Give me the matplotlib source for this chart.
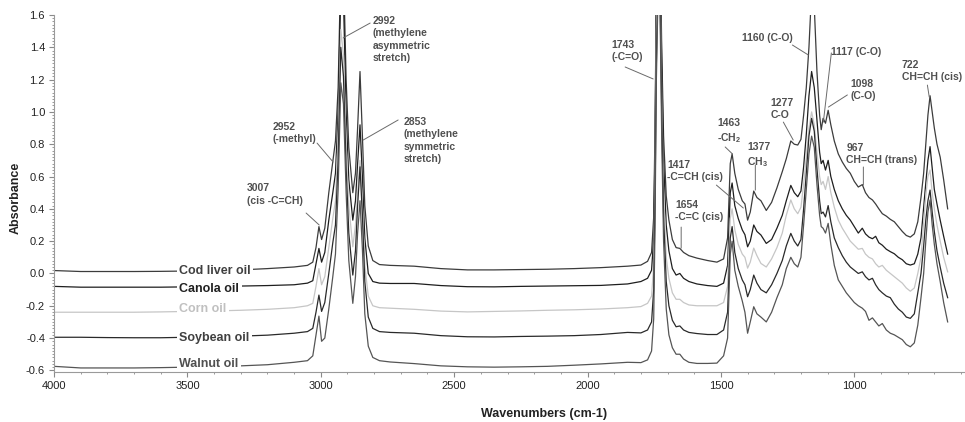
import matplotlib
matplotlib.use("Agg")
import matplotlib.pyplot as plt
from matplotlib.ticker import MultipleLocator, FormatStrFormatter

plt.rcParams['font.family'] = ['Liberation Sans', 'DejaVu Sans']
plt.rcParams['axes.unicode_minus'] = False
plt.rcParams['mathtext.fontset'] = 'custom'
plt.rcParams['mathtext.rm'] = 'Liberation Sans:bold'
plt.rcParams['mathtext.default'] = 'rm'

# ---------------- data ----------------
wavenumbers = [
    4000, 3900, 3800, 3700, 3600, 3500, 3400, 3300, 3200, 3100,
    3050, 3030, 3018, 3007, 2997, 2985, 2970, 2955, 2945, 2935,
    2925, 2915, 2905, 2895, 2880, 2870, 2862, 2853, 2844, 2835,
    2822, 2805, 2780, 2740, 2650, 2550, 2450, 2350, 2250, 2150,
    2050, 1950, 1850, 1800, 1775, 1760, 1752, 1747, 1742, 1735,
    1728, 1722, 1715, 1705, 1695, 1682, 1668, 1654, 1640, 1620,
    1590, 1550, 1515, 1490, 1475, 1465, 1458, 1448, 1435, 1420,
    1410, 1400, 1390, 1377, 1365, 1350, 1330, 1310, 1290, 1270,
    1255, 1238, 1225, 1212, 1200, 1190, 1180, 1170, 1160, 1150,
    1140, 1130, 1124, 1117, 1108, 1098, 1088, 1075, 1060, 1045,
    1030, 1015, 1000, 985, 970, 958, 945, 932, 920, 908,
    895, 880, 865, 850, 835, 820, 805, 790, 775, 762,
    750, 740, 732, 724, 716, 708, 700, 690, 678, 665,
    650,
]

cod_liver_oil = [
    0.018, 0.012, 0.012, 0.012, 0.013, 0.015, 0.017, 0.022, 0.030, 0.040,
    0.050, 0.070, 0.160, 0.290, 0.210, 0.280, 0.500, 0.690, 0.820, 1.150,
    1.900, 1.900, 1.200, 0.780, 0.500, 0.620, 0.900, 1.250, 0.850, 0.420,
    0.170, 0.080, 0.055, 0.050, 0.045, 0.030, 0.022, 0.022, 0.024, 0.026,
    0.030, 0.036, 0.045, 0.052, 0.075, 0.130, 0.350, 0.900, 1.800, 2.300,
    2.100, 1.400, 0.850, 0.480, 0.330, 0.210, 0.160, 0.155, 0.130, 0.110,
    0.095, 0.080, 0.070, 0.090, 0.220, 0.680, 0.740, 0.620, 0.520, 0.450,
    0.430, 0.330, 0.380, 0.510, 0.470, 0.450, 0.390, 0.440, 0.530, 0.630,
    0.710, 0.820, 0.800, 0.795, 0.830, 0.980, 1.150, 1.400, 1.750, 1.650,
    1.250, 0.980, 0.890, 0.960, 0.930, 1.010, 0.920, 0.820, 0.740, 0.690,
    0.650, 0.620, 0.570, 0.535, 0.550, 0.500, 0.470, 0.455, 0.430, 0.400,
    0.370, 0.355, 0.335, 0.320, 0.290, 0.260, 0.235, 0.225, 0.245, 0.320,
    0.470, 0.620, 0.800, 0.980, 1.100, 1.000, 0.900, 0.800, 0.720, 0.580,
    0.400,
]

canola_oil = [
    -0.080, -0.085, -0.085, -0.085, -0.085, -0.083, -0.080, -0.078, -0.075, -0.070,
    -0.060, -0.045, 0.060, 0.155, 0.070, 0.130, 0.330, 0.500, 0.620, 1.000,
    1.750, 1.700, 1.000, 0.580, 0.330, 0.450, 0.680, 0.920, 0.600, 0.220,
    0.000, -0.050, -0.060, -0.062, -0.062, -0.075, -0.082, -0.083, -0.080, -0.078,
    -0.076, -0.074, -0.065, -0.050, -0.030, 0.020, 0.220, 0.800, 1.700, 2.200,
    2.000, 1.300, 0.700, 0.300, 0.140, 0.030, -0.010, 0.000, -0.030, -0.050,
    -0.065, -0.075, -0.080, -0.060, 0.050, 0.500, 0.560, 0.420, 0.340, 0.270,
    0.240, 0.165, 0.200, 0.300, 0.260, 0.238, 0.186, 0.210, 0.280, 0.360,
    0.450, 0.545, 0.500, 0.475, 0.510, 0.660, 0.860, 1.100, 1.250, 1.150,
    0.950, 0.750, 0.680, 0.700, 0.640, 0.700, 0.600, 0.520, 0.450, 0.400,
    0.360, 0.330, 0.290, 0.250, 0.280, 0.245, 0.225, 0.215, 0.230, 0.190,
    0.175, 0.150, 0.135, 0.122, 0.100, 0.085, 0.060, 0.052, 0.060, 0.120,
    0.220, 0.410, 0.560, 0.700, 0.785, 0.650, 0.520, 0.430, 0.330, 0.230,
    0.120,
]

corn_oil = [
    -0.240, -0.240, -0.240, -0.240, -0.238, -0.235, -0.232, -0.228, -0.222, -0.212,
    -0.200, -0.185, -0.080, 0.030, -0.070, -0.020, 0.160, 0.340, 0.450, 0.850,
    1.510, 1.350, 0.800, 0.420, 0.165, 0.300, 0.500, 0.700, 0.420, 0.050,
    -0.140, -0.200, -0.212, -0.215, -0.222, -0.233, -0.238, -0.235, -0.232, -0.228,
    -0.225, -0.220, -0.212, -0.205, -0.185, -0.140, 0.050, 0.600, 1.500, 2.000,
    1.800, 1.100, 0.500, 0.100, -0.030, -0.120, -0.160, -0.160, -0.180, -0.195,
    -0.200, -0.200, -0.200, -0.180, -0.080, 0.340, 0.400, 0.270, 0.180, 0.120,
    0.100, 0.033, 0.070, 0.157, 0.110, 0.062, 0.040, 0.090, 0.160, 0.250,
    0.360, 0.455, 0.400, 0.370, 0.410, 0.550, 0.720, 0.900, 1.000, 0.920,
    0.750, 0.600, 0.550, 0.570, 0.520, 0.600, 0.500, 0.410, 0.330, 0.280,
    0.240, 0.200, 0.175, 0.150, 0.155, 0.120, 0.100, 0.090, 0.060, 0.040,
    0.050, 0.020, 0.000, -0.020, -0.040, -0.060, -0.090, -0.110, -0.090, 0.000,
    0.100, 0.310, 0.480, 0.600, 0.640, 0.500, 0.400, 0.300, 0.200, 0.100,
    0.010,
]

soybean_oil = [
    -0.395, -0.395, -0.397, -0.398, -0.398, -0.395, -0.392, -0.388, -0.382, -0.370,
    -0.360, -0.340, -0.240, -0.134, -0.235, -0.180, 0.000, 0.190, 0.300, 0.700,
    1.400, 1.220, 0.650, 0.250, -0.010, 0.140, 0.420, 0.660, 0.360, -0.050,
    -0.270, -0.340, -0.360, -0.365, -0.370, -0.385, -0.392, -0.393, -0.390, -0.388,
    -0.385, -0.378, -0.365, -0.368, -0.350, -0.300, -0.100, 0.450, 1.300, 1.900,
    1.700, 1.000, 0.350, -0.050, -0.200, -0.290, -0.330, -0.325, -0.350, -0.365,
    -0.372, -0.378, -0.378, -0.350, -0.240, 0.220, 0.290, 0.130, 0.030, -0.040,
    -0.070, -0.144, -0.100, -0.010, -0.060, -0.100, -0.120, -0.070, 0.000, 0.080,
    0.170, 0.248, 0.200, 0.170, 0.210, 0.400, 0.620, 0.850, 0.960, 0.880,
    0.650, 0.450, 0.370, 0.380, 0.350, 0.420, 0.320, 0.220, 0.160, 0.110,
    0.070, 0.040, 0.020, 0.000, 0.010, -0.020, -0.040, -0.030, -0.070, -0.100,
    -0.120, -0.140, -0.150, -0.190, -0.220, -0.240, -0.270, -0.278, -0.250, -0.120,
    0.000, 0.170, 0.330, 0.450, 0.516, 0.380, 0.260, 0.140, 0.040, -0.060,
    -0.150,
]

walnut_oil = [
    -0.575, -0.585, -0.585, -0.585, -0.583, -0.580, -0.578, -0.572, -0.565, -0.550,
    -0.540, -0.510, -0.380, -0.264, -0.420, -0.400, -0.220, -0.020, 0.120, 0.520,
    1.180, 1.050, 0.500, 0.080, -0.185, -0.020, 0.250, 0.450, 0.150, -0.250,
    -0.450, -0.520, -0.540, -0.548, -0.558, -0.572, -0.578, -0.580, -0.578, -0.575,
    -0.568, -0.560, -0.550, -0.552, -0.535, -0.480, -0.280, 0.300, 1.200, 1.800,
    1.600, 0.850, 0.200, -0.220, -0.380, -0.460, -0.500, -0.500, -0.530, -0.550,
    -0.557, -0.557, -0.555, -0.510, -0.400, 0.120, 0.200, 0.020, -0.080, -0.170,
    -0.240, -0.370, -0.300, -0.206, -0.250, -0.270, -0.300, -0.240, -0.150, -0.070,
    0.030, 0.100, 0.060, 0.040, 0.100, 0.300, 0.520, 0.740, 0.850, 0.780,
    0.550, 0.360, 0.290, 0.280, 0.250, 0.310, 0.180, 0.050, -0.040, -0.080,
    -0.120, -0.150, -0.180, -0.200, -0.215, -0.235, -0.290, -0.275, -0.300, -0.325,
    -0.310, -0.350, -0.370, -0.380, -0.395, -0.410, -0.440, -0.454, -0.430, -0.320,
    -0.150, 0.000, 0.200, 0.380, 0.455, 0.300, 0.180, 0.060, -0.050, -0.180,
    -0.300,
]

series_names = ["Cod liver oil", "Canola oil", "Corn oil", "Soybean oil", "Walnut oil"]
series_values = [cod_liver_oil, canola_oil, corn_oil, soybean_oil, walnut_oil]
series_colors = ["#3c3c3c", "#1e1e1e", "#c6c6c6", "#2a2a2a", "#555555"]
label_colors = ["#404040", "#202020", "#c0c0c0", "#404040", "#505050"]
label_y = [0.017, -0.097, -0.22, -0.398, -0.563]
label_x = 3531

x_ticks = [4000, 3500, 3000, 2500, 2000, 1500, 1000]
y_ticks = [-0.6, -0.4, -0.2, 0.0, 0.2, 0.4, 0.6, 0.8, 1.0, 1.2, 1.4, 1.6]

# band annotations: text, text anchor (left/top), leader line start, leader line end
annotations = [
    ("3007\n(cis -C=CH)", (3276, 0.559), (3055, 0.374), (3006, 0.30)),
    ("2952\n(-methyl)", (3182, 0.937), (3014, 0.807), (2954, 0.69)),
    ("2992\n(methylene\nasymmetric\nstretch)", (2807, 1.594), (2815, 1.55), (2916, 1.458)),
    ("2853\n(methylene\nsymmetric\nstretch)", (2691, 0.968), (2710, 0.95), (2841, 0.826)),
    ("1743\n(-C=O)", (1911, 1.445), (1859, 1.278), (1754, 1.204)),
    ("1417\n-C=CH (cis)", (1701, 0.702), (1517, 0.547), (1416, 0.405)),
    ("1654\n-C=C (cis)", (1671, 0.455), (1649, 0.287), (1649, 0.157)),
    ("1463\n-CH$_2$", (1514, 0.962), (1484, 0.783), (1457, 0.74)),
    ("1377\nCH$_3$", (1401, 0.814), (1371, 0.671), (1371, 0.516)),
    ("1277\nC-O", (1315, 1.086), (1266, 0.937), (1229, 0.826)),
    ("1160 (C-O)", (1420, 1.489), (1232, 1.414), (1172, 1.352)),
    ("1117 (C-O)", (1086, 1.402), (1086, 1.365), (1116, 0.937)),
    ("1098\n(C-O)", (1015, 1.204), (1026, 1.105), (1097, 1.03)),
    ("967\nCH=CH (trans)", (1030, 0.807), (966, 0.659), (966, 0.547)),
    ("722\nCH=CH (cis)", (822, 1.321), (726, 1.166), (719, 1.092)),
]

# ---------------- figure ----------------
fig = plt.figure(figsize=(9.65, 4.22), dpi=100)
ax = fig.add_axes([0.056, 0.1185, 0.944, 0.846])

for name, vals, col in zip(series_names, series_values, series_colors):
    ax.plot(wavenumbers, vals, color=col, lw=0.9, solid_joinstyle='round', zorder=2)

for name, ly, lc in zip(series_names, label_y, label_colors):
    ax.text(label_x, ly, name, ha='left', va='center', fontsize=9, fontweight='bold',
            color=lc, zorder=5,
            bbox=dict(boxstyle='square,pad=0.2', facecolor='white', edgecolor='none'))

for txt, tpos, lstart, lend in annotations:
    ax.text(tpos[0], tpos[1], txt, ha='left', va='top', fontsize=7.5, fontweight='bold',
            color='#505050', linespacing=1.3, zorder=6, clip_on=False)
    ax.annotate('', xy=lend, xytext=lstart,
                arrowprops=dict(arrowstyle='-', color='#6a6a6a', lw=0.7,
                                shrinkA=0, shrinkB=0), zorder=6)

ax.set_xlim(4000, 585)
ax.set_ylim(-0.61, 1.60)

ax.set_xticks(x_ticks)
ax.xaxis.set_minor_locator(MultipleLocator(100))
ax.set_yticks(y_ticks)
ax.yaxis.set_minor_locator(MultipleLocator(0.02))
ax.yaxis.set_major_formatter(FormatStrFormatter('%.1f'))

for s in ['top', 'right']:
    ax.spines[s].set_visible(False)
for s in ['left', 'bottom']:
    ax.spines[s].set_color('#9a9a9a')
    ax.spines[s].set_linewidth(0.8)
    ax.spines[s].set_zorder(10)

ax.tick_params(axis='both', which='major', labelsize=8, colors='#8a8a8a',
               labelcolor='#222222', length=3.5, width=0.8, direction='out', pad=3)
ax.tick_params(axis='both', which='minor', colors='#9a9a9a', length=1.6, width=0.7,
               direction='out')

fig.text(16 / 965, 1 - 198 / 422, 'Absorbance', rotation=90, ha='center', va='center',
         fontsize=9, fontweight='bold', color='#222222')
fig.text(544 / 965, 1 - 414 / 422, 'Wavenumbers (cm-1)', ha='center', va='center',
         fontsize=9, fontweight='bold', color='#222222')

fig.savefig('out.png', dpi=100, facecolor='white')
